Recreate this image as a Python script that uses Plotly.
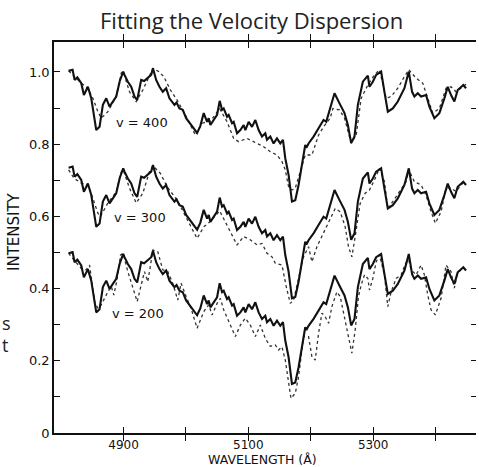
import plotly.graph_objects as go

# ---------------- data ----------------
# observed galaxy spectrum (solid), drawn at top (v=400 panel); the same spectrum
# is repeated lower down with a vertical offset for clarity
obs_wave = [4812, 4818.4, 4821.6, 4826, 4832.3, 4836.5, 4842.9, 4848.3, 4856.3, 4861.6,
            4866.9, 4872.3, 4877.6, 4882.9, 4888.3, 4894, 4899.5, 4901.6, 4906.9, 4912.3,
            4917.6, 4921.9, 4928.3, 4933, 4938.9, 4944.3, 4947.2, 4952.3, 4957.6, 4962.9,
            4968.3, 4973.6, 4981.6, 4985, 4989.6, 4994.9, 5000.3, 5008.3, 5017.9, 5023,
            5028.5, 5033.9, 5036.5, 5039.2, 5044.5, 5049.9, 5054.1, 5057.9, 5060.5, 5065.9,
            5068.5, 5073.9, 5076.5, 5081.9, 5087.2, 5092.5, 5095.2, 5100.5, 5105.9, 5111.2,
            5116.5, 5121.9, 5127.2, 5129.9, 5135.2, 5140.5, 5145.9, 5151.2, 5155.5, 5159.2,
            5164.5, 5169.9, 5175.2, 5180.5, 5191.2, 5193, 5196.5, 5204.5, 5212.5, 5220.5,
            5224.8, 5238.1, 5246.1, 5254.1, 5259.5, 5264.8, 5270.1, 5275.5, 5283.5, 5291.5,
            5294.1, 5299.5, 5304.8, 5312.8, 5318.1, 5323.5, 5331.5, 5339.5, 5350.1, 5357.1,
            5362.4, 5366.1, 5371.5, 5376.8, 5384.8, 5390.1, 5398.1, 5406.1, 5414.1, 5419.5,
            5424.8, 5430.1, 5435.5, 5440.8, 5444.5, 5448.8]
obs_int = [1.003, 1.006, 0.978, 0.985, 0.969, 0.936, 0.959, 0.927, 0.839, 0.848,
           0.909, 0.927, 0.904, 0.918, 0.932, 0.975, 1.001, 0.992, 0.973, 0.959,
           0.932, 0.922, 0.978, 0.975, 0.984, 0.992, 1.010, 0.978, 0.959, 0.945,
           0.955, 0.927, 0.909, 0.915, 0.899, 0.895, 0.872, 0.853, 0.831, 0.850,
           0.886, 0.862, 0.872, 0.853, 0.867, 0.881, 0.920, 0.895, 0.899, 0.876,
           0.881, 0.858, 0.862, 0.830, 0.839, 0.853, 0.839, 0.862, 0.848, 0.867,
           0.839, 0.821, 0.830, 0.812, 0.821, 0.802, 0.816, 0.802, 0.812, 0.761,
           0.715, 0.641, 0.645, 0.687, 0.798, 0.790, 0.802, 0.821, 0.844, 0.867,
           0.862, 0.941, 0.913, 0.886, 0.853, 0.803, 0.821, 0.909, 0.973, 0.990,
           0.959, 0.973, 0.992, 1.001, 0.945, 0.890, 0.899, 0.918, 0.955, 1.001,
           0.945, 0.932, 0.941, 0.932, 0.936, 0.904, 0.872, 0.886, 0.927, 0.959,
           0.936, 0.918, 0.950, 0.959, 0.964, 0.955]
obs_offsets = [0.0, -0.268, -0.505]   # v=400, v=300, v=200 rows

# broadened template spectra (dotted)
t400_wave = [4812, 4832.3, 4842.9, 4850.9, 4858.9, 4864.3, 4874.9, 4888.3, 4896.3, 4899.5,
             4909.6, 4920.3, 4930.9, 4941.6, 4947.2, 4956.5, 4964.5, 4975.2, 4985.9, 5001.9,
             5015.2, 5025.9, 5039.2, 5054.1, 5065.9, 5076.5, 5084.5, 5097.9, 5113.9, 5124.5,
             5135.2, 5145.9, 5153.9, 5159.2, 5164.5, 5169.9, 5175.2, 5183.2, 5191.2, 5201.9,
             5212.5, 5220.5, 5231.2, 5235.5, 5246.1, 5254.1, 5264.8, 5272.8, 5280.8, 5291.5,
             5302.1, 5310.1, 5320.8, 5328.8, 5339.5, 5350.1, 5357.1, 5368.8, 5379.5, 5384.8,
             5395.5, 5406.1, 5416.8, 5424.8, 5432.8, 5443.5, 5448.8]
t400_int = [1.003, 0.969, 0.955, 0.927, 0.890, 0.872, 0.890, 0.932, 0.997, 1.001,
            0.945, 0.918, 0.950, 0.992, 1.010, 1.001, 0.987, 0.950, 0.922, 0.872,
            0.825, 0.858, 0.864, 0.898, 0.862, 0.816, 0.807, 0.816, 0.802, 0.793,
            0.779, 0.770, 0.752, 0.729, 0.682, 0.673, 0.678, 0.724, 0.770, 0.770,
            0.825, 0.848, 0.872, 0.899, 0.895, 0.872, 0.803, 0.825, 0.927, 0.964,
            0.992, 1.006, 0.927, 0.932, 0.955, 0.987, 1.006, 0.983, 0.969, 0.941,
            0.886, 0.899, 0.955, 0.959, 0.945, 0.959, 0.966]

t300_wave = [4812, 4821, 4832.3, 4842.9, 4850.9, 4858.9, 4863, 4874.9, 4888.3, 4896.3,
             4899.5, 4909.6, 4920.3, 4930.9, 4941.6, 4947.2, 4959.2, 4969.9, 4985.9, 5001.9,
             5017.9, 5028.5, 5039.2, 5054.1, 5065.9, 5081.9, 5092.5, 5103.2, 5113.9, 5121.9,
             5129.9, 5137.9, 5143.2, 5153.9, 5160.8, 5167.2, 5172.5, 5180.5, 5188.5, 5196.5,
             5201.9, 5209.9, 5220.5, 5231.2, 5239.2, 5247.2, 5255.2, 5260.5, 5265.9, 5271.2,
             5279.2, 5287.2, 5294.1, 5302.1, 5310.1, 5318.1, 5323.5, 5331.5, 5342.1, 5352.8,
             5357.1, 5366.1, 5376.8, 5384.8, 5392.8, 5399.7, 5408.8, 5416.8, 5424.8, 5432.8,
             5443.5, 5448.8]
t300_int = [0.729, 0.705, 0.692, 0.687, 0.650, 0.609, 0.600, 0.637, 0.668, 0.723,
            0.729, 0.678, 0.637, 0.664, 0.724, 0.740, 0.719, 0.682, 0.645, 0.590,
            0.539, 0.571, 0.586, 0.615, 0.576, 0.521, 0.544, 0.535, 0.521, 0.525,
            0.498, 0.488, 0.470, 0.465, 0.405, 0.359, 0.368, 0.424, 0.488, 0.516,
            0.474, 0.516, 0.553, 0.590, 0.622, 0.613, 0.571, 0.516, 0.488, 0.544,
            0.636, 0.664, 0.673, 0.701, 0.733, 0.696, 0.622, 0.641, 0.669, 0.696,
            0.729, 0.696, 0.687, 0.659, 0.613, 0.581, 0.613, 0.678, 0.678, 0.669,
            0.692, 0.695]

t200_wave = [4812, 4820, 4832.3, 4840, 4845.6, 4849.3, 4853.6, 4858.9, 4864.3, 4874.9,
             4880.3, 4884.5, 4889.9, 4895.2, 4899.5, 4906.9, 4914.9, 4921.9, 4928.3, 4933.6,
             4938.9, 4944.3, 4947.2, 4954.9, 4962.9, 4970.9, 4978.9, 4986.9, 4992.3, 5000.3,
             5008.3, 5017.9, 5028.5, 5036.5, 5041.9, 5049.9, 5055.2, 5060.5, 5068.5, 5079.2,
             5087.2, 5095.2, 5103.2, 5111.2, 5119.2, 5127.2, 5135.2, 5143.2, 5148.5, 5153.9,
             5159.2, 5164.5, 5168.3, 5175.2, 5180.5, 5188.5, 5196.5, 5201.9, 5207.2, 5212.5,
             5217.9, 5223.2, 5228.5, 5233.9, 5241.9, 5247.2, 5252.5, 5260.5, 5265.9, 5271.2,
             5276.5, 5280.8, 5286.1, 5291.5, 5294.1, 5299.5, 5304.8, 5310.1, 5318.1, 5323.5,
             5328.8, 5336.8, 5344.8, 5352, 5357, 5360.8, 5368.8, 5376.8, 5382.1, 5387.5,
             5392.8, 5399.7, 5408.8, 5416.8, 5424.8, 5430.1, 5435.5, 5443.5]
t200_int = [0.498, 0.480, 0.456, 0.452, 0.465, 0.419, 0.364, 0.345, 0.355, 0.391,
            0.406, 0.382, 0.428, 0.493, 0.497, 0.447, 0.406, 0.364, 0.410, 0.447,
            0.419, 0.484, 0.507, 0.502, 0.452, 0.447, 0.415, 0.368, 0.415, 0.378,
            0.345, 0.290, 0.336, 0.355, 0.327, 0.359, 0.373, 0.341, 0.308, 0.267,
            0.299, 0.318, 0.299, 0.267, 0.299, 0.262, 0.240, 0.244, 0.230, 0.239,
            0.202, 0.147, 0.096, 0.110, 0.156, 0.267, 0.267, 0.211, 0.202, 0.276,
            0.332, 0.322, 0.304, 0.350, 0.391, 0.378, 0.332, 0.267, 0.221, 0.285,
            0.378, 0.410, 0.438, 0.428, 0.396, 0.428, 0.474, 0.493, 0.438, 0.350,
            0.391, 0.428, 0.438, 0.470, 0.480, 0.452, 0.438, 0.465, 0.438, 0.382,
            0.341, 0.327, 0.373, 0.465, 0.447, 0.401, 0.447, 0.452]

row_labels = ["v = 400", "v = 300", "v = 200"]
label_wave = [4929, 4927, 4923]
label_int = [0.861, 0.596, 0.332]

x_ticks = [4900, 5000, 5100, 5200, 5300, 5400]
x_ticktext = ["4900", "", "5100", "", "5300", ""]
y_ticks = [0, 0.1, 0.2, 0.3, 0.4, 0.5, 0.6, 0.7, 0.8, 0.9, 1.0]
y_ticktext = ["0", "", "0.2", "", "0.4", "", "0.6", "", "0.8", "", "1.0"]

title_text = "Fitting the Velocity Dispersion"
x_title = "WAVELENGTH (Å)"
y_title = "INTENSITY"

# ---------------- figure ----------------
W, H = 479, 467
ML, MR, MT, MB = 54, 3, 42, 34
X_RANGE = [4788.6, 5464.8]
Y_RANGE = [0, 1.083]

plot_w = W - ML - MR
plot_h = H - MT - MB


def px_x(px):
    return (px - ML) / plot_w


def px_y(py):
    return ((H - MB) - py) / plot_h


fig = go.Figure()

templates = [(t400_wave, t400_int), (t300_wave, t300_int), (t200_wave, t200_int)]
for (tw, ti) in templates:
    fig.add_trace(go.Scatter(x=tw, y=ti, mode="lines",
                             line=dict(color="#333333", width=1.3, dash="dot"),
                             hoverinfo="skip", showlegend=False))

for off in obs_offsets:
    fig.add_trace(go.Scatter(x=obs_wave, y=[v + off for v in obs_int], mode="lines",
                             line=dict(color="#111111", width=2.1),
                             hoverinfo="skip", showlegend=False))

# invisible trace to carry the right-hand tick axis
fig.add_trace(go.Scatter(x=[], y=[], yaxis="y2", showlegend=False))

for txt, lx, ly in zip(row_labels, label_wave, label_int):
    fig.add_annotation(x=lx, y=ly, text=txt, showarrow=False,
                       font=dict(family="DejaVu Sans", size=13, color="#111111"))

fig.add_annotation(xref="paper", yref="paper", x=px_x(251), y=px_y(20),
                   text=title_text, showarrow=False, xanchor="center", yanchor="middle",
                   font=dict(family="Open Sans", size=22, color="#222222"))
fig.add_annotation(xref="paper", yref="paper", x=px_x(262), y=px_y(459),
                   text=x_title, showarrow=False, xanchor="center", yanchor="middle",
                   font=dict(family="DejaVu Sans", size=12.5, color="#111111"))
fig.add_annotation(xref="paper", yref="paper", x=px_x(14), y=px_y(232), textangle=-90,
                   text=y_title, showarrow=False, xanchor="center", yanchor="middle",
                   font=dict(family="DejaVu Sans", size=15, color="#111111"))
# cut-off slide text fragments at the left edge
fig.add_annotation(xref="paper", yref="paper", x=px_x(0), y=px_y(323), text="s",
                   showarrow=False, xanchor="left", yanchor="middle",
                   font=dict(family="Open Sans", size=18, color="#222222"))
fig.add_annotation(xref="paper", yref="paper", x=px_x(0), y=px_y(345), text="t",
                   showarrow=False, xanchor="left", yanchor="middle",
                   font=dict(family="Open Sans", size=18, color="#222222"))

line_style = dict(showgrid=False, zeroline=False, linecolor="#111111", linewidth=1.6,
                  ticks="inside", ticklen=6, tickwidth=1.4, tickcolor="#111111")

fig.update_layout(
    width=W, height=H,
    margin=dict(l=ML, r=MR, t=MT, b=MB),
    paper_bgcolor="white", plot_bgcolor="white",
    xaxis=dict(range=X_RANGE, tickmode="array", tickvals=x_ticks, ticktext=x_ticktext,
               showline=True, mirror="allticks", ticklabelstandoff=0,
               tickfont=dict(family="DejaVu Sans", size=12, color="#111111"),
               **line_style),
    yaxis=dict(range=Y_RANGE, tickmode="array", tickvals=y_ticks, ticktext=y_ticktext,
               showline=True, mirror=False,
               tickfont=dict(family="DejaVu Sans", size=13, color="#111111"),
               **line_style),
    yaxis2=dict(range=Y_RANGE, overlaying="y", side="right", tickmode="array",
                tickvals=y_ticks, showticklabels=False, showline=False, showgrid=False,
                zeroline=False, ticks="inside", ticklen=5, tickwidth=1.2,
                tickcolor="#111111"),
    showlegend=False,
)

fig.write_html("out.html")
